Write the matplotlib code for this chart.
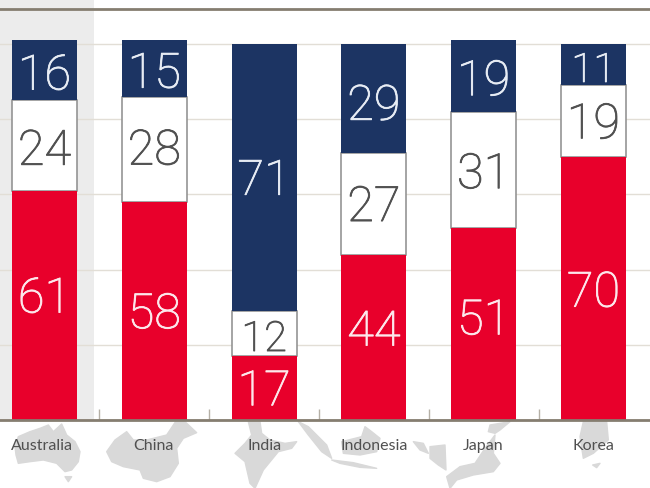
import matplotlib
matplotlib.use('Agg')
import matplotlib.pyplot as plt
import matplotlib.patheffects as pe
import numpy as np

# Values
countries = ['Australia', 'China', 'India', 'Indonesia', 'Japan', 'Korea']
redValues = [61, 58, 17, 44, 51, 70]
whiteValues = [24, 28, 12, 27, 31, 19]
blueValues = [16, 15, 71, 29, 19, 11]

# Label nudges in px (the original labels are not quite centred)
redShift = [-10, 0, 0, -9, -7, 1]
whiteShift = [2, -2, 2, 0, 1, 0]
blueShift = [2, 2, 0, 4, 2, 2]
nameShift = [-3, -1, 0, 0, -1, 0]

# Font sizes, the two narrow segments use smaller digits
whiteSizes = [35, 35, 30, 35, 35, 35]
blueSizes = [35, 35, 35, 35, 35, 29]

RED = '#e8002b'
BLUE = '#1c3463'
EDGE = '#8c8c8c'
LINE = '#857d70'
GRID = '#e2ded6'
BAND = '#ececec'
MAP = '#d9d9d9'
LABEL = '#505050'

# Rough map silhouettes behind the labels: x origin in px, outlines at 3x zoom
maps = [
	(0, [(45,80),(55,50),(90,35),(120,25),(145,15),(160,35),(185,12),(200,45),(225,65),(240,95),(235,125),(215,150),(195,155),(170,130),(130,120),(90,125),(55,130),(48,105)]),
	(0, [(195,170),(215,170),(205,185)]),
	(0, [(320,95),(345,60),(380,35),(400,60),(440,60),(500,45),(510,30),(530,0),(555,5),(590,38),(550,55),(530,85),(535,130),(510,170),(470,185),(430,175),(420,150),(370,140),(335,125)]),
	(220, [(85,5),(120,5),(125,40),(150,60),(195,70),(230,65),(215,85),(175,95),(130,150),(105,205),(90,190),(75,125),(45,100),(75,70),(95,45)]),
	(220, [(235,5),(265,20),(320,75),(335,115),(305,95),(265,45)]),
	(220, [(365,65),(425,50),(435,20),(455,35),(480,55),(470,95),(420,105),(370,100)]),
	(220, [(335,120),(400,128),(470,145),(420,142),(360,130)]),
	(220, [(580,65),(610,70),(625,100),(600,90)]),
	(430, [(0,80),(45,75),(48,150),(25,135),(0,115)]),
	(430, [(180,15),(240,5),(210,30),(195,40),(175,35)]),
	(430, [(195,45),(190,100),(210,130),(190,155),(130,165),(80,180),(60,205),(50,170),(90,140),(135,130),(165,85)]),
	(430, [(460,5),(530,5),(535,60),(490,100),(460,115),(450,50)]),
	(430, [(488,135),(510,130),(500,143)]),
]

W, H = 650, 488
fig = plt.figure(figsize=(W / 100, H / 100), dpi=100)

# Full figure layer in pixels for the backdrop
bg = fig.add_axes([0, 0, 1, 1], zorder=0)
bg.set_xlim(0, W)
bg.set_ylim(H, 0)
bg.axis('off')
bg.axvspan(0, 94, ymin=(H - 420) / H, ymax=1, color=BAND, lw=0)
for originX, shape in maps:
	pts = np.array(shape, dtype=float)
	bg.fill(originX + pts[:, 0] / 3, 420 + pts[:, 1] / 3, color=MAP, lw=1, joinstyle='round')

# Chart axes: bottom at 420 px, 3.76 px per percent, 109.8 px per bar
ax = fig.add_axes([0, (H - 420) / H, 1, 420 / H], zorder=1)
ax.patch.set_alpha(0)
ax.set_xlim(-44.5 / 109.8, (W - 44.5) / 109.8)
ax.set_ylim(0, 420 / 3.76)

x = np.arange(len(countries))
barWidth = 65 / 109.8
red = np.array(redValues)
white = np.array(whiteValues)
blue = np.array(blueValues)

ax.yaxis.set_ticks(np.arange(0, 101, 20))
ax.tick_params(left=False, labelleft=False, bottom=False, labelbottom=False)
ax.grid(axis='y', color=GRID, lw=1)
ax.set_axisbelow(True)
for name in ['left', 'right', 'top']:
	ax.spines[name].set_visible(False)
ax.spines['bottom'].set_color(LINE)
ax.spines['bottom'].set_linewidth(2)
ax.axhline(109.3, color=LINE, lw=2)

# Small ticks between the bars
ax.vlines(x[:-1] + 0.5, 0, 3, color='#b5b0a6', lw=1)

# White first so red and blue sit on top of its outline
ax.bar(x, white, barWidth, bottom=red, color='white', edgecolor=EDGE, lw=1.1)
ax.bar(x, red, barWidth, color=RED, lw=0)
ax.bar(x, blue, barWidth, bottom=red + white, color=BLUE, lw=0)

numFont = dict(family='Roboto', weight='light', ha='center', va='center', textcoords='offset pixels')

# Draws one number, thickened a little because the original digits are heavier
def drawNumber(value, y, shift, size, color):
	label = ax.annotate(str(value), (i, y), xytext=(0, -4 - shift), fontsize=size, color=color, **numFont)
	label.set_path_effects([pe.withStroke(linewidth=0.6, foreground=color)])

for i in x:
	drawNumber(red[i], red[i] / 2, redShift[i], 35, '#fde8ec')
	drawNumber(white[i], red[i] + white[i] / 2, whiteShift[i], whiteSizes[i], '#505050')
	drawNumber(blue[i], red[i] + white[i] + blue[i] / 2, blueShift[i], blueSizes[i], '#e8edf5')
	ax.annotate(countries[i], (i, 0), xytext=(nameShift[i], -26), textcoords='offset pixels',
		ha='center', va='center', fontsize=11.5, family='Lato', color=LABEL, annotation_clip=False)

fig.savefig('out.png', dpi=100)
